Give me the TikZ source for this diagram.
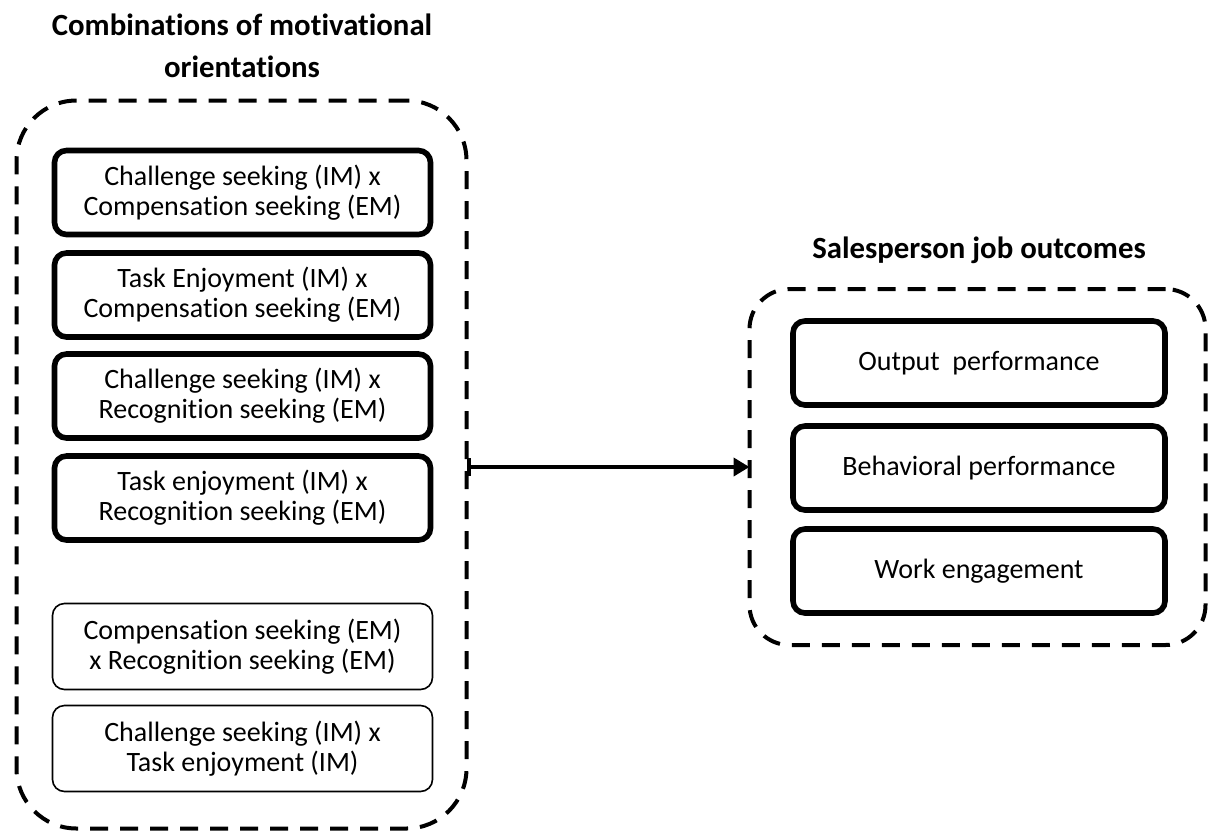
\documentclass[tikz,border=0pt]{standalone}
\usepackage{fontspec}
\setmainfont{Carlito}[Ligatures=NoCommon]
\usetikzlibrary{arrows.meta}

\begin{document}
\begin{tikzpicture}[x=0.5pt,y=-0.5pt,inner sep=0pt,outer sep=0pt,
groupbox/.style={draw,rounded corners=30pt,line width=2pt,dash pattern=on 9pt off 6pt},
mobox/.style={draw,rectangle,rounded corners=6pt,line width=2.8pt,align=center,
  minimum width=188pt,minimum height=42pt,font=\fontsize{14}{15}\selectfont},
thinbox/.style={mobox,line width=0.8pt,minimum width=190pt,minimum height=43pt},
outbox/.style={mobox,minimum width=186pt},
grouptitle/.style={align=center,font=\bfseries\fontsize{15.4}{21}\selectfont}]
\useasboundingbox (0,0) rectangle (1216,836);

% left group: combinations
\draw (242,46) node[grouptitle] (combotitle) {Combinations of motivational\\orientations};
\draw (241.5,464.5) node[groupbox,minimum width=225pt,minimum height=364pt] (combos) {};
\draw (242.5,192.5) node[mobox] (chcomp) {Challenge seeking (IM) x\\Compensation seeking (EM)};
\draw (242.5,295) node[mobox] (tecomp) {Task Enjoyment (IM) x\\Compensation seeking (EM)};
\draw (242.5,396) node[mobox] (chrec) {Challenge seeking (IM) x\\Recognition seeking (EM)};
\draw (242.5,498) node[mobox] (terec) {Task enjoyment (IM) x\\Recognition seeking (EM)};
\draw (242.5,646.5) node[thinbox] (comprec) {Compensation seeking (EM)\\x Recognition seeking (EM)};
\draw (242.5,748.5) node[thinbox] (chte) {Challenge seeking (IM) x\\Task enjoyment (IM)};

% right group: outcomes
\draw (979,250) node[grouptitle] (outtitle) {Salesperson job outcomes};
\draw (977.5,467) node[groupbox,rounded corners=20pt,minimum width=228pt,minimum height=178pt] (outcomes) {};
\draw (979,363) node[outbox] (outperf) {Output~~performance};
\draw (979,468) node[outbox] (behperf) {Behavioral performance};
\draw (979,571) node[outbox] (engage) {Work engagement};

\draw[line width=2pt,{Bar[width=9pt]}-{Triangle[length=8pt,width=9pt]}] (combos.east |- outcomes.west) -- (outcomes.west);
\end{tikzpicture}
\end{document}
